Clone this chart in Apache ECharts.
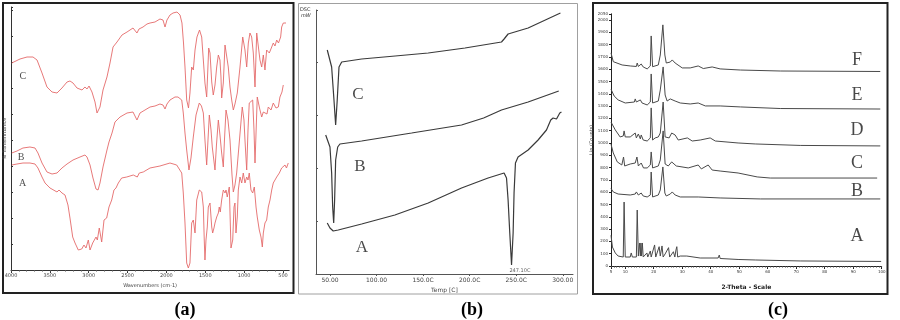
<!DOCTYPE html>
<html>
<head>
<meta charset="utf-8">
<script src="https://cdn.jsdelivr.net/npm/echarts@6/dist/echarts.min.js"></script>
<style>
html, body { margin: 0; padding: 0; background: #fff; }
#main { width: 900px; height: 320px; }
</style>
</head>
<body>
<div id="main"></div>
<script>
// (a) FTIR spectra: [wavenumber cm-1, offset transmittance a.u.]
var ftirC = [[3990,207],[3884,211],[3794,213],[3717,213],[3665,210],[3601,197],[3537,183],[3472,178],[3408,177],[3344,182],[3279,188],[3241,189],[3202,187],[3151,182],[3086,180],[3048,183],[3022,181],[2996,184],[2958,178],[2919,168],[2893,157],[2855,163],[2816,180],[2765,193],[2726,207],[2687,223],[2636,228],[2572,235],[2507,238],[2430,242],[2379,237],[2353,241],[2301,243],[2250,246],[2211,247],[2147,248],[2083,251],[2044,250],[2018,243],[1993,250],[1954,255],[1915,257],[1864,258],[1825,255],[1800,247],[1780,227],[1761,203],[1739,170],[1716,162],[1697,177],[1675,203],[1654,200],[1632,220],[1607,233],[1574,240],[1546,233],[1525,210],[1504,187],[1482,173],[1471,193],[1456,222],[1439,217],[1417,188],[1397,175],[1375,185],[1353,203],[1332,215],[1311,210],[1298,193],[1289,172],[1268,187],[1246,225],[1224,223],[1204,203],[1182,183],[1160,170],[1139,160],[1118,166],[1088,177],[1053,203],[1018,233],[989,220],[967,203],[946,227],[925,237],[903,233],[882,217],[860,183],[838,237],[818,235],[796,210],[774,203],[753,215],[732,200],[710,220],[676,217],[645,223],[625,227],[603,224],[581,230],[558,227],[530,233],[517,243],[496,247],[474,248],[461,247]];
var ftirB = [[3990,117],[3923,119],[3846,122],[3756,123],[3691,122],[3653,117],[3601,107],[3537,98],[3472,96],[3408,97],[3344,102],[3279,106],[3202,110],[3112,113],[3048,115],[3022,113],[2983,105],[2945,92],[2906,81],[2880,80],[2855,87],[2816,103],[2765,120],[2739,128],[2700,137],[2662,148],[2597,153],[2507,157],[2430,158],[2379,150],[2340,157],[2276,160],[2211,163],[2147,164],[2083,166],[2044,165],[2018,161],[1993,166],[1954,170],[1890,173],[1851,173],[1803,170],[1783,157],[1761,137],[1739,120],[1710,100],[1684,112],[1654,133],[1619,155],[1577,167],[1549,164],[1525,157],[1504,130],[1482,105],[1465,130],[1448,155],[1426,140],[1410,123],[1375,100],[1356,125],[1332,150],[1311,135],[1289,117],[1268,103],[1253,130],[1233,160],[1208,150],[1182,130],[1156,95],[1139,78],[1118,85],[1096,97],[1060,130],[1024,163],[1002,150],[989,130],[967,100],[950,140],[934,167],[912,165],[890,170],[873,140],[860,107],[841,150],[831,173],[802,162],[774,153],[753,158],[732,160],[706,156],[689,163],[654,160],[625,167],[590,162],[560,163],[539,173],[513,178],[496,185]];
var ftirA = [[3990,105],[3923,106],[3846,107],[3756,107],[3691,106],[3653,102],[3601,93],[3562,87],[3498,82],[3408,78],[3382,80],[3344,77],[3305,75],[3267,65],[3241,52],[3206,33],[3176,27],[3134,20],[3090,21],[3061,25],[3035,22],[3005,30],[2983,20],[2949,27],[2906,33],[2889,30],[2864,42],[2833,28],[2803,50],[2769,52],[2739,63],[2704,70],[2675,80],[2649,82],[2619,87],[2576,92],[2511,93],[2426,95],[2375,93],[2349,97],[2298,98],[2211,102],[2083,104],[1954,107],[1868,105],[1803,97],[1783,77],[1761,47],[1739,7],[1718,2],[1697,7],[1675,47],[1654,50],[1632,37],[1610,70],[1577,80],[1546,78],[1525,63],[1513,30],[1504,10],[1491,30],[1474,43],[1461,63],[1439,67],[1417,43],[1405,37],[1388,42],[1375,47],[1353,53],[1332,57],[1320,63],[1307,58],[1289,70],[1268,80],[1246,77],[1233,80],[1217,73],[1191,83],[1169,22],[1147,30],[1130,63],[1118,67],[1105,37],[1088,53],[1075,80],[1053,93],[1031,87],[1011,97],[989,87],[967,93],[950,90],[934,97],[912,80],[890,77],[869,83],[847,63],[831,53],[805,40],[783,33],[766,23],[753,37],[732,47],[710,50],[689,63],[667,70],[645,80],[625,87],[581,93],[547,97],[517,102],[500,100],[474,105],[455,102],[432,107]];
var ftirTicks = [500, 1000, 1500, 2000, 2500, 3000, 3500, 4000];
var ftirLetters = [['C', 3849, 194], ['B', 3871, 113], ['A', 3849, 87]];

// (b) DSC curves: [temperature C, heat flow a.u.]
var dscC = [[47.1,224],[51.8,207],[54.3,174],[56.1,149],[57.8,174],[59.7,207],[62.6,212],[84,215],[120,218],[155.5,221],[195,226],[234.2,232],[237,235],[241.3,240],[262.8,246],[297.5,261]];
var dscB = [[45.4,139],[50,127],[51.8,101],[52.9,67],[54,51],[55,74],[56.1,114],[58.3,127],[60.7,130],[84,133],[137.7,141],[191.3,149],[215,156],[234.2,164],[262.8,172],[295.7,183]];
var dscA = [[47.1,51],[50,46],[53.5,43],[58.9,44],[84,50],[119.7,59],[155.5,71],[191.3,86],[219.8,96],[237,101],[239.6,96],[241.3,74],[243.1,41],[245,9],[246.7,41],[247.7,81],[249.2,111],[252,117],[262.8,124],[273.5,134],[282.5,144],[287.1,154],[289.6,156],[293.3,155],[296.8,161],[298.6,162]];
var dscTicks = [50, 100, 150, 200, 250, 300];
var dscTickLabels = ['50.00', '100.00', '150.0C', '200.0C', '250.0C', '300.00'];
var dscLetters = [['C', 80, 179], ['B', 82.2, 107], ['A', 84.3, 26]];
var dscPeak = ['247.10C', 254, 3];

// (c) XRD patterns: [2-theta, counts]
var xrdF = [[5,1732],[5.8,1661],[8.9,1634],[11.75,1626],[13.9,1622],[14.2,1650],[14.6,1622],[15.6,1642],[16.3,1618],[17.7,1602],[18.8,1626],[19.1,1870],[19.6,1620],[21.6,1634],[22.3,1715],[23.2,1960],[23.9,1715],[24.4,1650],[25.8,1658],[26.5,1675],[27.5,1650],[30,1610],[32.8,1610],[35.6,1626],[37.4,1605],[40.5,1618],[43.3,1602],[50.4,1593],[64.4,1585],[99.5,1581]];
var xrdE = [[5,1437],[6.1,1382],[7.5,1350],[10,1325],[13.2,1333],[13.5,1358],[13.9,1333],[15.3,1350],[15.9,1325],[17.7,1309],[18.8,1333],[19.1,1561],[19.6,1325],[21.6,1341],[22.3,1431],[23.3,1618],[24,1390],[24.7,1341],[25.8,1358],[26.5,1374],[27.5,1341],[29.3,1325],[32.8,1317],[35.6,1325],[38.1,1301],[43.3,1301],[50.4,1293],[64.4,1280],[99.5,1276]];
var xrdD = [[5,1170],[6.5,1106],[8.2,1049],[9.3,1057],[9.6,1098],[10,1049],[11.75,1049],[13.5,1081],[13.9,1041],[14.6,1073],[15.3,1033],[15.6,1065],[16.3,1024],[17.7,1016],[18.8,1041],[19.1,1285],[19.6,1024],[20.5,1041],[21.6,1049],[22.3,1081],[23.3,1333],[24,1049],[24.7,1065],[25.4,1041],[26.3,1081],[26.8,1089],[27.5,1065],[28.6,1024],[31.8,1041],[33.5,1016],[36.3,1024],[39.8,1041],[41.6,1016],[49.6,1000],[55.6,992],[71.4,980],[99.5,976]];
var xrdC = [[5,990],[5.8,919],[7.2,846],[8.8,821],[9.4,886],[9.8,813],[11.75,829],[13.5,837],[14.1,886],[14.6,813],[15.6,837],[16.4,797],[17.7,797],[18.8,821],[19.1,927],[19.6,797],[21.6,813],[22.3,862],[23.3,1098],[24,829],[25.1,813],[26.3,846],[26.8,862],[27.9,813],[32.1,797],[35.6,821],[36.7,789],[39.1,821],[40.5,780],[43.3,772],[49.6,756],[56.3,724],[60.9,715],[98.4,715]];
var xrdB = [[5,630],[5.8,602],[7.5,585],[11.75,577],[13.5,585],[13.9,602],[14.6,577],[15.6,593],[16.3,569],[17.7,561],[18.8,577],[19.1,764],[19.6,561],[21.6,577],[22.3,618],[23.2,805],[23.9,593],[24.4,569],[25.8,585],[26.5,602],[27.5,577],[29.3,561],[35.6,561],[36.3,569],[43.3,553],[57.4,545],[99.5,545]];
var xrdA = [[5,250],[5.5,154],[6.5,106],[7.5,81],[9.3,73],[9.6,520],[10,73],[11.75,73],[12.1,106],[12.5,73],[13.9,73],[14.2,455],[14.6,81],[15,187],[15.3,81],[15.5,187],[15.7,81],[16,187],[16.3,73],[17,81],[17.6,106],[17.9,73],[18.8,122],[19.1,73],[20.3,171],[20.7,73],[21.4,122],[21.9,157],[22.3,81],[22.9,163],[23.3,73],[24,98],[25.2,149],[25.6,73],[26.9,116],[27.4,73],[27.8,130],[28.1,157],[28.4,73],[29.3,81],[31.6,81],[32.1,73],[36.3,65],[42.6,65],[43,89],[43.3,61],[49.6,53],[55.6,49],[71.4,41],[99.8,37]];
var xrdTicks = [5, 10, 20, 30, 40, 50, 60, 70, 80, 90, 100];
var xrdLetters = [['F', 91.3, 1675], ['E', 91.3, 1385], ['D', 91.3, 1106], ['C', 91.3, 835], ['B', 91.3, 604], ['A', 91.3, 238]];

var panelTitles = ['(a)', '(b)', '(c)'];

function range(a, b, step) {
  var out = [];
  for (var v = a; v <= b + 1e-9; v += step) out.push(v);
  return out;
}

function plain(v) { return String(v); }

function lineSeries(data, xi, yi, color, width) {
  return {
    type: 'line', data: data, xAxisIndex: xi, yAxisIndex: yi,
    showSymbol: false, silent: true, animation: false,
    lineStyle: { color: color, width: width }
  };
}

function letterSeries(list, xi, yi, size, color) {
  return {
    type: 'scatter', xAxisIndex: xi, yAxisIndex: yi, symbolSize: 0, silent: true, animation: false,
    data: list.map(function (l) { return { name: l[0], value: [l[1], l[2]] }; }),
    label: { show: true, position: 'inside', formatter: '{b}', color: color,
      fontFamily: 'Liberation Serif', fontSize: size }
  };
}

var tinyLabel = { fontSize: 5, color: '#444', fontFamily: 'DejaVu Sans', margin: 3, formatter: plain };

var chartDom = document.getElementById('main');
var myChart = echarts.init(chartDom);
var option = {
  backgroundColor: '#fff',
  animation: false,
  grid: [
    { left: 11, top: 7, width: 278.2, height: 263 },
    { left: 316, top: 10, width: 257, height: 264 },
    { left: 611, top: 13.8, width: 270.7, height: 252.2 }
  ],
  xAxis: [
    { gridIndex: 0, type: 'value', position: 'bottom', min: 420, max: 4000, inverse: true,
      axisLine: { lineStyle: { color: '#333', width: 1 } },
      axisTick: { customValues: ftirTicks, length: 3, lineStyle: { color: '#333' } },
      axisLabel: Object.assign({}, tinyLabel, { customValues: ftirTicks }),
      splitLine: { show: false },
      name: 'Wavenumbers (cm-1)', nameLocation: 'middle', nameGap: 13,
      nameTextStyle: { fontSize: 5, color: '#444', fontFamily: 'DejaVu Sans' } },
    { gridIndex: 0, type: 'value', position: 'bottom', min: 420, max: 4000, inverse: true,
      axisLine: { show: false },
      axisTick: { customValues: range(500, 4000, 100), length: 1.5, lineStyle: { color: '#555' } },
      axisLabel: { show: false }, splitLine: { show: false } },
    { gridIndex: 1, type: 'value', position: 'bottom', min: 35, max: 311,
      axisLine: { lineStyle: { color: '#555', width: 1 } },
      axisTick: { customValues: dscTicks, length: 2, lineStyle: { color: '#555' } },
      axisLabel: Object.assign({}, tinyLabel, { customValues: dscTicks, fontSize: 6,
        formatter: function (v) { return dscTickLabels[dscTicks.indexOf(v)]; } }),
      splitLine: { show: false },
      name: 'Temp [C]', nameLocation: 'middle', nameGap: 12,
      nameTextStyle: { fontSize: 6, color: '#444', fontFamily: 'DejaVu Sans' } },
    { gridIndex: 2, type: 'value', position: 'bottom', min: 5, max: 100,
      axisLine: { lineStyle: { color: '#222', width: 1 } },
      axisTick: { customValues: xrdTicks, length: 3, lineStyle: { color: '#222' } },
      axisLabel: Object.assign({}, tinyLabel, { customValues: xrdTicks, fontSize: 4, color: '#333', margin: 4 }),
      splitLine: { show: false },
      name: '2-Theta - Scale', nameLocation: 'middle', nameGap: 18,
      nameTextStyle: { fontSize: 6, color: '#222', fontFamily: 'DejaVu Sans', fontWeight: 'bold' } },
    { gridIndex: 2, type: 'value', position: 'bottom', min: 5, max: 100,
      axisLine: { show: false },
      axisTick: { customValues: range(5, 100, 1), length: 1.5, lineStyle: { color: '#444' } },
      axisLabel: { show: false }, splitLine: { show: false } }
  ],
  yAxis: [
    { gridIndex: 0, type: 'value', min: 0, max: 263, interval: 26,
      axisLine: { lineStyle: { color: '#333', width: 1 } },
      axisTick: { length: 2, inside: true, lineStyle: { color: '#333' } },
      axisLabel: { show: false }, splitLine: { show: false },
      name: '% Transmittance', nameLocation: 'middle', nameGap: 4, nameRotate: 90,
      nameTextStyle: { fontSize: 5, color: '#444', fontFamily: 'DejaVu Sans' } },
    { gridIndex: 1, type: 'value', min: 0, max: 264, interval: 53,
      axisLine: { lineStyle: { color: '#555', width: 1 } },
      axisTick: { length: 2, inside: true, lineStyle: { color: '#555' } },
      axisLabel: { show: false }, splitLine: { show: false } },
    { gridIndex: 2, type: 'value', min: 0, max: 2050, interval: 100,
      axisLine: { lineStyle: { color: '#222', width: 1 } },
      axisTick: { length: 2, lineStyle: { color: '#222' } },
      axisLabel: Object.assign({}, tinyLabel, { fontSize: 4, color: '#333', margin: 3 }),
      splitLine: { show: false },
      name: 'Lin (Counts)', nameLocation: 'middle', nameGap: 15, nameRotate: 90,
      nameTextStyle: { fontSize: 5, color: '#444', fontFamily: 'DejaVu Sans' } }
  ],
  series: [
    lineSeries(ftirC, 0, 0, '#e46a6a', 0.9),
    lineSeries(ftirB, 0, 0, '#e46a6a', 0.9),
    lineSeries(ftirA, 0, 0, '#e46a6a', 0.9),
    letterSeries(ftirLetters, 0, 0, 10, '#222'),
    lineSeries(dscC, 2, 1, '#3a3a3a', 1.2),
    lineSeries(dscB, 2, 1, '#3a3a3a', 1.2),
    lineSeries(dscA, 2, 1, '#3a3a3a', 1.2),
    letterSeries(dscLetters, 2, 1, 17, '#1a1a1a'),
    {
      type: 'scatter', xAxisIndex: 2, yAxisIndex: 1, symbolSize: 0, silent: true,
      data: [{ name: dscPeak[0], value: [dscPeak[1], dscPeak[2]] }],
      label: { show: true, position: 'inside', formatter: '{b}', fontSize: 5, color: '#333', fontFamily: 'DejaVu Sans' }
    },
    lineSeries(xrdF, 3, 2, '#4a4a4a', 1),
    lineSeries(xrdE, 3, 2, '#4a4a4a', 1),
    lineSeries(xrdD, 3, 2, '#4a4a4a', 1),
    lineSeries(xrdC, 3, 2, '#4a4a4a', 1),
    lineSeries(xrdB, 3, 2, '#4a4a4a', 1),
    lineSeries(xrdA, 3, 2, '#4a4a4a', 1),
    letterSeries(xrdLetters, 3, 2, 18, '#1a1a1a')
  ],
  graphic: [
    { type: 'rect', shape: { x: 3, y: 3, width: 290.5, height: 290 }, style: { fill: null, stroke: '#222', lineWidth: 2 }, silent: true },
    { type: 'rect', shape: { x: 298.5, y: 3.5, width: 279, height: 290.5 }, style: { fill: null, stroke: '#a0a0a0', lineWidth: 1 }, silent: true },
    { type: 'rect', shape: { x: 593, y: 3, width: 294.5, height: 291 }, style: { fill: null, stroke: '#222', lineWidth: 2 }, silent: true },
    { type: 'text', x: 300, y: 7, style: { text: 'DSC', fontSize: 5, fill: '#333', fontFamily: 'DejaVu Sans' } },
    { type: 'text', x: 301, y: 13, style: { text: 'mW', fontSize: 5, fill: '#333', fontFamily: 'DejaVu Sans', fontStyle: 'italic' } },
    { type: 'text', x: 185, y: 310, style: { text: panelTitles[0], align: 'center', verticalAlign: 'middle', fontSize: 18, fontWeight: 'bold', fill: '#000', fontFamily: 'Liberation Serif' } },
    { type: 'text', x: 472, y: 310, style: { text: panelTitles[1], align: 'center', verticalAlign: 'middle', fontSize: 18, fontWeight: 'bold', fill: '#000', fontFamily: 'Liberation Serif' } },
    { type: 'text', x: 778, y: 310, style: { text: panelTitles[2], align: 'center', verticalAlign: 'middle', fontSize: 18, fontWeight: 'bold', fill: '#000', fontFamily: 'Liberation Serif' } }
  ]
};

option && myChart.setOption(option);
</script>
</body>
</html>
